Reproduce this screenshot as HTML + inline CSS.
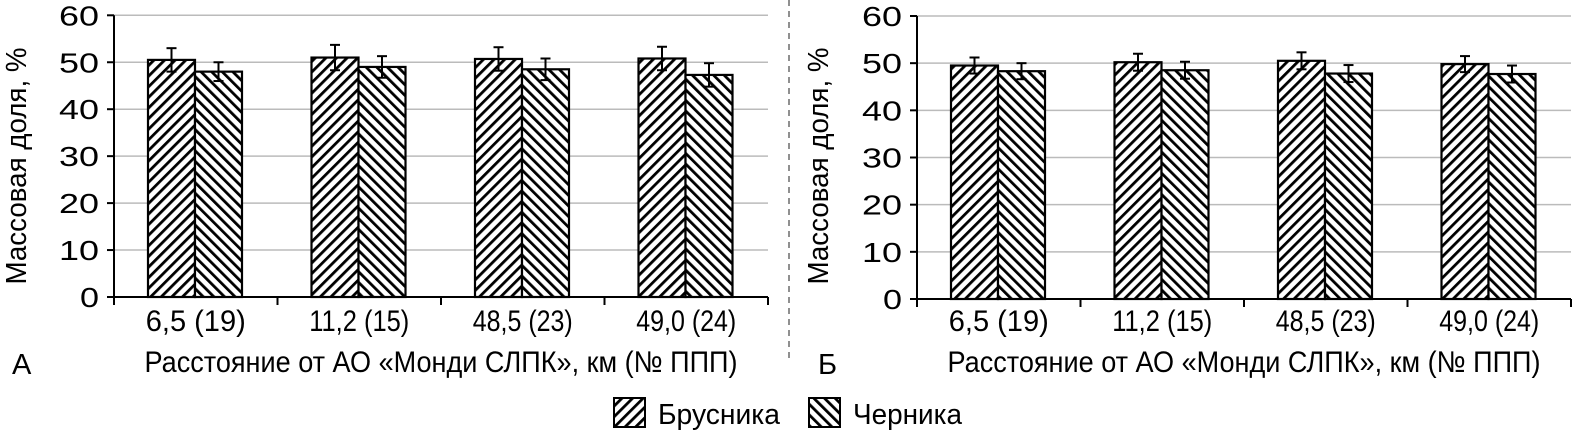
<!DOCTYPE html>
<html><head><meta charset="utf-8"><style>body{margin:0;background:#fff}svg{display:block}text{font-family:"Liberation Sans",Arial,sans-serif;fill:#000}</style></head>
<body>
<svg width="1575" height="435" viewBox="0 0 1575 435" xmlns="http://www.w3.org/2000/svg">
<defs>
<pattern id="pb" patternUnits="userSpaceOnUse" width="7.5" height="7.5" patternTransform="rotate(45)"><rect width="7.5" height="7.5" fill="#fff"/><rect x="0" y="0" width="2.8" height="7.5" fill="#000"/></pattern>
<pattern id="pc" patternUnits="userSpaceOnUse" width="7.5" height="7.5" patternTransform="rotate(-45)"><rect width="7.5" height="7.5" fill="#fff"/><rect x="0" y="0" width="2.8" height="7.5" fill="#000"/></pattern>
</defs>
<line x1="789" y1="0" x2="789" y2="362" stroke="#555" stroke-width="1.3" stroke-dasharray="6,5"/>
<g id="charts"></g>
<rect x="614" y="398" width="31" height="29" fill="url(#pb)" stroke="#000" stroke-width="2"/>
<text x="658" y="424" font-size="29" textLength="122" lengthAdjust="spacingAndGlyphs">Брусника</text>
<rect x="809" y="398" width="31" height="29" fill="url(#pc)" stroke="#000" stroke-width="2"/>
<text x="853" y="424" font-size="29" textLength="109" lengthAdjust="spacingAndGlyphs">Черника</text>
</svg>
<script>
var NS="http://www.w3.org/2000/svg",g=document.getElementById("charts");
function el(t,a,txt){var e=document.createElementNS(NS,t);for(var k in a)e.setAttribute(k,a[k]);if(txt)e.textContent=txt;g.appendChild(e);return e;}
var charts=[{ax:114,top:15.3,bot:297,tl:18,let:"А",lx:12,
 d:[[50.5,2.5,48,2],[51,2.7,49,2.3],[50.7,2.5,48.5,2.3],[50.8,2.5,47.3,2.5]]},
 {ax:917,top:16,bot:299,tl:820,let:"Б",lx:818,
 d:[[49.5,1.7,48.3,1.7],[50.2,1.8,48.5,1.8],[50.5,1.8,47.8,1.8],[49.8,1.7,47.7,1.8]]}];
var labs=["6,5 (19)","11,2 (15)","48,5 (23)","49,0 (24)"];
charts.forEach(function(c){
 var W=163.5,R=c.ax+4*W,s=(c.bot-c.top)/60;
 for(var v=10;v<=60;v+=10){var y=c.bot-v*s;el("line",{x1:c.ax,x2:R,y1:y,y2:y,stroke:"#bbb","stroke-width":1.5});}
 for(var v=0;v<=60;v+=10){var y=c.bot-v*s;el("line",{x1:c.ax-7,x2:c.ax,y1:y,y2:y,stroke:"#000","stroke-width":2});
  el("text",{x:c.ax-15,y:y+10,"font-size":28,"text-anchor":"end",textLength:v?40:19,lengthAdjust:"spacingAndGlyphs"},String(v));}
 c.d.forEach(function(d,i){var x0=c.ax+i*W+34;
  [[d[0],d[1],"pb",x0],[d[2],d[3],"pc",x0+47]].forEach(function(b){
   var y=c.bot-b[0]*s;el("rect",{x:b[3],y:y,width:47,height:c.bot-y,fill:"url(#"+b[2]+")",stroke:"#000","stroke-width":2.2});
   var cx=b[3]+23.5,y1=c.bot-(b[0]+b[1])*s,y2=c.bot-(b[0]-b[1])*s;
   el("line",{x1:cx,x2:cx,y1:y1,y2:y2,stroke:"#000","stroke-width":2});
   el("line",{x1:cx-5,x2:cx+5,y1:y1,y2:y1,stroke:"#000","stroke-width":2});
   el("line",{x1:cx-5,x2:cx+5,y1:y2,y2:y2,stroke:"#000","stroke-width":2});});
  el("text",{x:c.ax+i*W+W/2,y:331,"font-size":30,"text-anchor":"middle",textLength:100,lengthAdjust:"spacingAndGlyphs"},labs[i]);});
 el("line",{x1:c.ax,x2:c.ax,y1:c.top,y2:c.bot,stroke:"#000","stroke-width":2});
 el("line",{x1:c.ax,x2:R,y1:c.bot,y2:c.bot,stroke:"#000","stroke-width":2});
 for(var i=0;i<=4;i++){var x=c.ax+i*W;el("line",{x1:x,x2:x,y1:c.bot,y2:c.bot+8,stroke:"#000","stroke-width":2});}
 el("text",{x:c.ax+2*W,y:372,"font-size":30,"text-anchor":"middle",textLength:593,lengthAdjust:"spacingAndGlyphs"},"Расстояние от АО «Монди СЛПК», км (№ ППП)");
 el("text",{x:c.lx,y:374,"font-size":29},c.let);
 el("text",{x:0,y:0,"font-size":29,"text-anchor":"middle",textLength:237,lengthAdjust:"spacingAndGlyphs",transform:"translate("+(c.tl+8)+",166) rotate(-90)"},"Массовая доля, %");
});
</script>
</body></html>
